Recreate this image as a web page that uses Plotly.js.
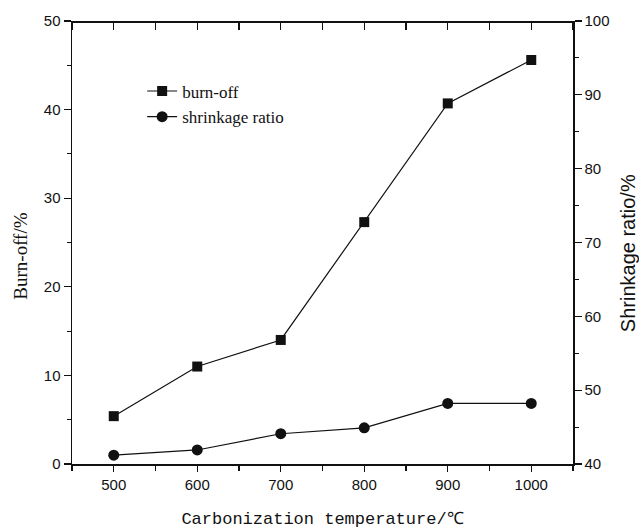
<!DOCTYPE html>
<html>
<head>
<meta charset="utf-8">
<script src="https://cdn.plot.ly/plotly-3.0.1.min.js"></script>
<style>html,body{margin:0;padding:0;background:#fff;}#chart{width:639px;height:529px;}</style>
</head>
<body>
<div id="chart"></div>
<script>
var temperatures = [500, 600, 700, 800, 900, 1000];
var burnOff = [5.4, 11.0, 14.0, 27.3, 40.7, 45.6];
var shrinkageRatio = [41.2, 41.9, 44.1, 44.9, 48.2, 48.2];
var xTickVals = [500, 600, 700, 800, 900, 1000];
var xTickText = ['500', '600', '700', '800', '900', '1000'];

var traces = [
  {
    x: temperatures, y: burnOff, name: 'burn-off', type: 'scatter', mode: 'lines+markers',
    xaxis: 'x', yaxis: 'y', legend: 'legend',
    line: {color: '#111', width: 1.2},
    marker: {symbol: 'square', size: 10, color: '#111'}
  },
  {
    x: temperatures, y: shrinkageRatio, name: 'shrinkage ratio', type: 'scatter', mode: 'lines+markers',
    xaxis: 'x', yaxis: 'y2', legend: 'legend2',
    line: {color: '#111', width: 1.2},
    marker: {symbol: 'circle', size: 11, color: '#111'}
  },
  {
    x: temperatures, y: burnOff, type: 'scatter', mode: 'none', xaxis: 'x2', yaxis: 'y',
    showlegend: false, hoverinfo: 'skip'
  }
];

var tickFont = {family: 'Liberation Sans, Arial, sans-serif', size: 15, color: '#111'};

var layout = {
  width: 639, height: 529,
  margin: {l: 72, r: 66, t: 21, b: 65},
  paper_bgcolor: '#fff', plot_bgcolor: '#fff',
  showlegend: true,
  xaxis: {
    range: [450, 1050], tickvals: xTickVals, ticktext: xTickText,
    ticks: 'outside', ticklen: 6, tickwidth: 1.2, tickcolor: '#111',
    minor: {dtick: 50, ticks: 'outside', ticklen: 5, tickwidth: 1.2, tickcolor: '#111', showgrid: false},
    showline: true, linecolor: '#111', linewidth: 1.5,
    showgrid: false, zeroline: false, tickfont: tickFont,
    title: {text: 'Carbonization temperature/℃', font: {family: 'Liberation Mono, Courier New, monospace', size: 17, color: '#111'}, standoff: 20}
  },
  xaxis2: {
    range: [450, 1050], overlaying: 'x', side: 'bottom', anchor: 'free', position: 1,
    tickmode: 'linear', tick0: 450, dtick: 50, ticks: 'outside', ticklen: 7, tickwidth: 1.3, tickcolor: '#111',
    showticklabels: false, showline: true, linecolor: '#111', linewidth: 1.5,
    showgrid: false, zeroline: false
  },
  yaxis: {
    range: [0, 50], dtick: 10, ticks: 'outside', ticklen: 7, tickwidth: 1.2, tickcolor: '#111',
    minor: {dtick: 5, ticks: 'outside', ticklen: 4, tickwidth: 1, tickcolor: '#111', showgrid: false},
    showline: true, linecolor: '#111', linewidth: 1.5,
    showgrid: false, zeroline: false, tickfont: tickFont
  },
  yaxis2: {
    range: [40, 100], dtick: 10, overlaying: 'y', side: 'right', anchor: 'x',
    ticks: 'outside', ticklen: 7, tickwidth: 1.2, tickcolor: '#111',
    minor: {dtick: 5, ticks: 'outside', ticklen: 4, tickwidth: 1, tickcolor: '#111', showgrid: false},
    showline: true, linecolor: '#111', linewidth: 1.5,
    showgrid: false, zeroline: false, tickfont: tickFont
  },
  annotations: [
    {
      text: 'Burn-off/%', xref: 'paper', yref: 'paper', x: -0.102, y: 0.47,
      xanchor: 'center', yanchor: 'middle', textangle: -90, showarrow: false,
      font: {family: 'Liberation Serif, Times New Roman, serif', size: 19, color: '#111'}
    },
    {
      text: 'Shrinkage ratio/%', xref: 'paper', yref: 'paper', x: 1.109, y: 0.475,
      xanchor: 'center', yanchor: 'middle', textangle: -90, showarrow: false,
      font: {family: 'Liberation Sans, Arial, sans-serif', size: 20, color: '#111'}
    }
  ],
  legend: {
    x: 0.14, y: 0.841, xanchor: 'left', yanchor: 'middle', bgcolor: 'rgba(0,0,0,0)',
    font: {family: 'Liberation Serif, Times New Roman, serif', size: 17, color: '#111'}
  },
  legend2: {
    x: 0.14, y: 0.783, xanchor: 'left', yanchor: 'middle', bgcolor: 'rgba(0,0,0,0)',
    font: {family: 'Liberation Serif, Times New Roman, serif', size: 17, color: '#111'}
  }
};

Plotly.newPlot('chart', traces, layout, {displayModeBar: false, staticPlot: true});
</script>
</body>
</html>
